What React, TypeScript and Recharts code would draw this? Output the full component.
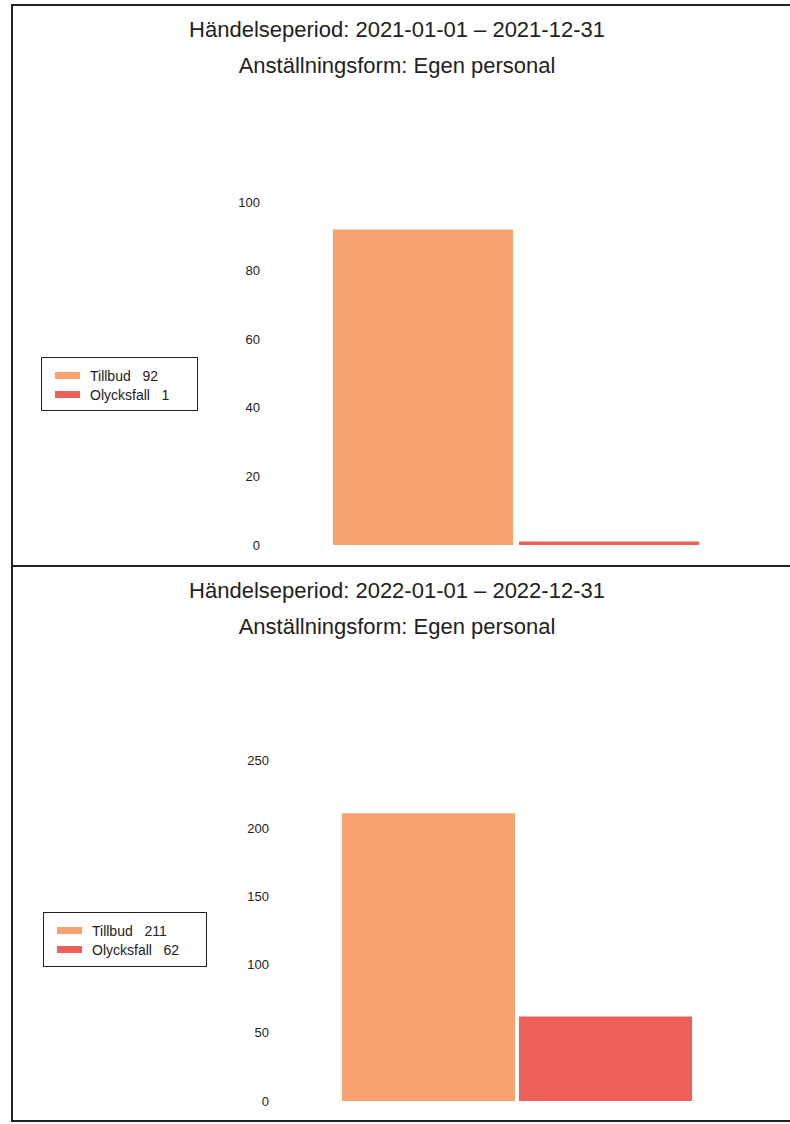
import { BarChart, Bar, XAxis, YAxis, Legend } from 'recharts';

const SERIES = ['Tillbud', 'Olycksfall'];
const COLORS = ['#f9a26f', '#ef5f5a'];
const PERIODS = ['2021-01-01 – 2021-12-31', '2022-01-01 – 2022-12-31'];
const EMPLOYMENT = 'Egen personal';
const TILLBUD = [92, 211];
const OLYCKSFALL = [1, 62];
const TICKS_2021 = [0, 20, 40, 60, 80, 100];
const TICKS_2022 = [0, 50, 100, 150, 200, 250];

const FONT = '"Liberation Sans", Arial, sans-serif';
const INK = '#222';

type PanelProps = {
  period: string;
  values: number[];
  ticks: number[];
  top: number;
  height: number;
  titleTop: number;
  plot: { top: number; bottom: number; left: number; right: number };
  barGap: number;
  catGap: number;
  tickMargin: number;
  legend: { left: number; top: number; width: number; height: number };
};

function LegendBox({ values, width, height }: { values: number[]; width: number; height: number }) {
  return (
    <div
      style={{
        width,
        height,
        boxSizing: 'border-box',
        border: `1px solid ${INK}`,
        background: '#fff',
        fontFamily: FONT,
        fontSize: 14,
        color: INK,
        paddingTop: 8,
        paddingLeft: 13,
      }}
    >
      {SERIES.map((s, i) => (
        <div key={s} style={{ display: 'flex', alignItems: 'center', height: 19 }}>
          <span style={{ display: 'inline-block', width: 25, height: 7, background: COLORS[i], marginRight: 10 }} />
          <span style={{ whiteSpace: 'pre' }}>{`${s}   ${values[i]}`}</span>
        </div>
      ))}
    </div>
  );
}

function Panel(p: PanelProps) {
  const row = { name: p.period, Tillbud: p.values[0], Olycksfall: p.values[1] };
  const yWidth = 60;
  const W = 790;
  return (
    <div style={{ position: 'absolute', left: 0, top: p.top, width: W, height: p.height }}>
      <div
        style={{
          position: 'absolute',
          left: 2,
          top: p.titleTop,
          width: W,
          textAlign: 'center',
          fontFamily: FONT,
          fontSize: 22,
          lineHeight: '36px',
          color: INK,
        }}
      >
        <div>Händelseperiod: {p.period}</div>
        <div>Anställningsform: {EMPLOYMENT}</div>
      </div>
      <div style={{ position: 'absolute', left: 0, top: 0 }}>
        <BarChart
          width={W}
          height={p.height}
          data={[row]}
          margin={{
            top: p.plot.top,
            bottom: p.height - p.plot.bottom,
            left: p.plot.left - yWidth,
            right: W - p.plot.right,
          }}
          barGap={p.barGap}
          barCategoryGap={p.catGap}
        >
          <XAxis dataKey="name" hide />
          <YAxis
            width={yWidth}
            domain={[p.ticks[0], p.ticks[p.ticks.length - 1]]}
            ticks={p.ticks}
            axisLine={false}
            tickLine={false}
            tickSize={0}
            tickMargin={p.tickMargin}
            tick={{ fill: INK, fontSize: 13, fontFamily: FONT }}
          />
          <Legend
            layout="horizontal"
            align="center"
            verticalAlign="middle"
            wrapperStyle={{ left: p.legend.left, top: p.legend.top, width: p.legend.width, height: p.legend.height }}
            content={() => <LegendBox values={p.values} width={p.legend.width} height={p.legend.height} />}
          />
          {SERIES.map((s, i) => (
            <Bar key={s} dataKey={s} fill={COLORS[i]} isAnimationActive={false} />
          ))}
        </BarChart>
      </div>
    </div>
  );
}

export default function App() {
  return (
    <div style={{ position: 'absolute', left: 0, top: 0, width: 790, height: 1124, background: '#fff', overflow: 'hidden' }}>
      <Panel
        period={PERIODS[0]}
        values={[TILLBUD[0], OLYCKSFALL[0]]}
        ticks={TICKS_2021}
        top={0}
        height={566}
        titleTop={12}
        plot={{ top: 202, bottom: 545, left: 265, right: 767 }}
        barGap={6}
        catGap={68}
        tickMargin={5}
        legend={{ left: 41, top: 357, width: 157, height: 54 }}
      />
      <Panel
        period={PERIODS[1]}
        values={[TILLBUD[1], OLYCKSFALL[1]]}
        ticks={TICKS_2022}
        top={566}
        height={556}
        titleTop={7}
        plot={{ top: 194, bottom: 535, left: 275, right: 759 }}
        barGap={4}
        catGap={67}
        tickMargin={6}
        legend={{ left: 43, top: 346, width: 164, height: 55 }}
      />
      {/* page frame */}
      <div style={{ position: 'absolute', left: 11, top: 4, width: 779, height: 2, background: INK }} />
      <div style={{ position: 'absolute', left: 11, top: 4, width: 2, height: 1118, background: INK }} />
      <div style={{ position: 'absolute', left: 11, top: 565, width: 779, height: 2, background: INK }} />
      <div style={{ position: 'absolute', left: 11, top: 1120, width: 779, height: 2, background: INK }} />
    </div>
  );
}
